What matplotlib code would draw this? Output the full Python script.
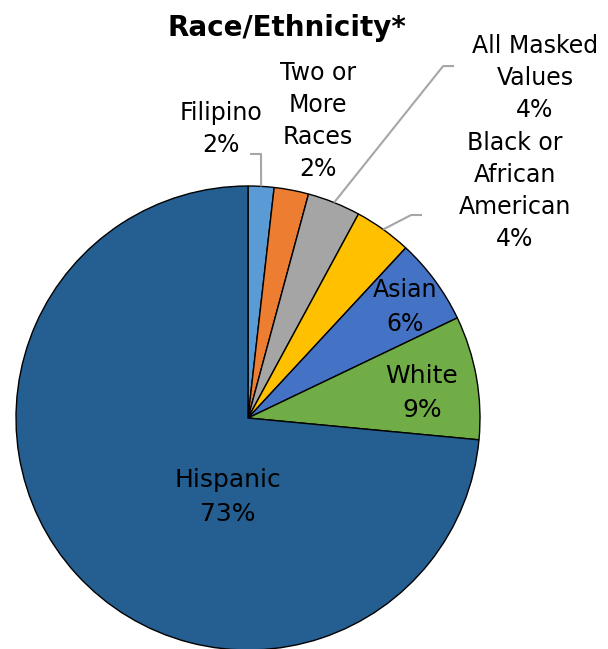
import numpy as np
import matplotlib
matplotlib.use("Agg")
import matplotlib.pyplot as plt

categories = ["Filipino", "Two or\nMore\nRaces", "All Masked\nValues", "Black or\nAfrican\nAmerican", "Asian", "White", "Hispanic"]
values = [1.8, 2.4, 3.7, 4.0, 6.0, 8.6, 73.5]
pct_labels = ["2%", "2%", "4%", "4%", "6%", "9%", "73%"]
colors = ["#5B9BD5", "#ED7D31", "#A5A5A5", "#FFC000", "#4472C4", "#70AD47", "#255E91"]

# label block centres (data units, pie radius = 1)
label_pos = [(-0.116, 1.246), (0.302, 1.280), (1.237, 1.466), (1.151, 0.978),
             (0.677, 0.478), (0.750, 0.108), (-0.086, -0.341)]
label_size = [17, 17, 17, 17, 17, 18, 18]
label_ls = [1.43, 1.43, 1.43, 1.43, 1.52, 1.5, 1.55]
# leader-line elbows
leaders = {0: [(0.009, 1.138), (0.056, 1.138)],
           2: [(0.888, 1.517), (0.841, 1.517)],
           3: [(0.75, 0.875), (0.703, 0.875)]}

plt.rcParams['font.family'] = ['DejaVu Sans']
fig = plt.figure(figsize=(6.08, 6.49), dpi=100)
ax = fig.add_axes([0, 0, 1, 1])
wedges, _ = ax.pie(values, colors=colors, startangle=90, counterclock=False,
                   wedgeprops=dict(edgecolor="black", linewidth=1.0))

total = sum(values)
cum = 0
for i, v in enumerate(values):
    mid = cum + v / 2
    cum += v
    ang = np.deg2rad(90 - mid / total * 360)
    ex, ey = np.cos(ang), np.sin(ang)
    if i in leaders:
        pts = leaders[i] + [(ex, ey)]
        xs = [p[0] for p in pts]
        ys = [p[1] for p in pts]
        ax.plot(xs, ys, color="#A6A6A6", lw=1.5, solid_capstyle="butt", zorder=3)
    x, y = label_pos[i]
    ax.text(x, y, categories[i] + "\n" + pct_labels[i], ha="center", va="center",
            fontsize=label_size[i], linespacing=label_ls[i], color="black", zorder=4)

ax.text(0.168, 1.681, "Race/Ethnicity*", ha="center", va="center",
        fontsize=20, fontweight="bold", color="black")

cx, cy, r = 248, 418, 232
ax.set_xlim((0 - cx) / r, (608 - cx) / r)
ax.set_ylim((cy - 649) / r, (cy - 0) / r)
ax.set_aspect('auto')
ax.axis('off')
fig.savefig("out.png", dpi=100)
